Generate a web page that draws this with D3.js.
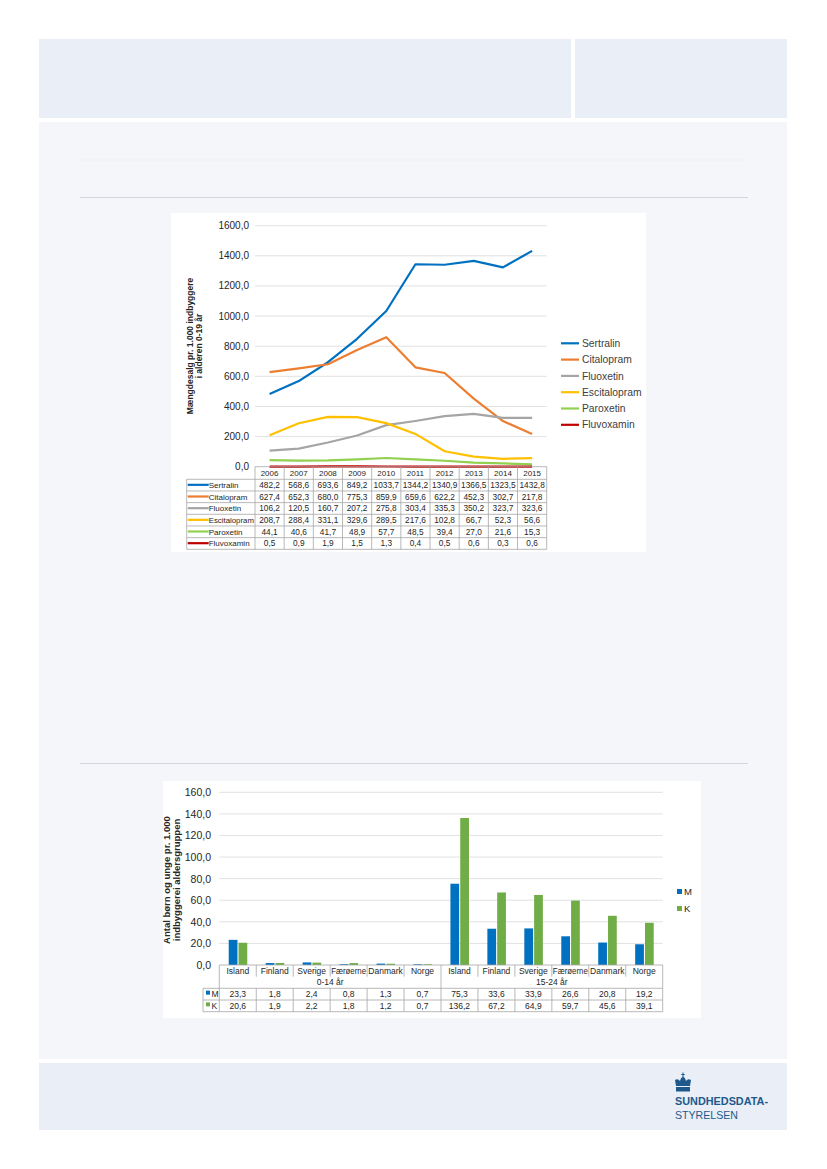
<!DOCTYPE html>
<html>
<head>
<meta charset="utf-8">
<script src="https://cdn.jsdelivr.net/npm/d3@7/dist/d3.min.js"></script>
<style>
  body { margin: 0; background: #fff; }
  svg text { font-family: "Liberation Sans", Arial, sans-serif; }
</style>
</head>
<body>
<div id="page"></div>
<script>
const width = 827;
const height = 1169;

// chart 1 data
const years = ['2006','2007','2008','2009','2010','2011','2012','2013','2014','2015'];
const drugs = ['Sertralin','Citalopram','Fluoxetin','Escitalopram','Paroxetin','Fluvoxamin'];
const sertralin = [482.2, 568.6, 693.6, 849.2, 1033.7, 1344.2, 1340.9, 1366.5, 1323.5, 1432.8];
const citalopram = [627.4, 652.3, 680.0, 775.3, 859.9, 659.6, 622.2, 452.3, 302.7, 217.8];
const fluoxetin = [106.2, 120.5, 160.7, 207.2, 275.8, 303.4, 335.3, 350.2, 323.7, 323.6];
const escitalopram = [208.7, 288.4, 331.1, 329.6, 289.5, 217.6, 102.8, 66.7, 52.3, 56.6];
const paroxetin = [44.1, 40.6, 41.7, 48.9, 57.7, 48.5, 39.4, 27.0, 21.6, 15.3];
const fluvoxamin = [0.5, 0.9, 1.9, 1.5, 1.3, 0.4, 0.5, 0.6, 0.3, 0.6];
const drugColors = ['#0070c0', '#ed7d31', '#a5a5a5', '#ffc000', '#92d050', '#c00000'];
const yTicks1 = [0, 200, 400, 600, 800, 1000, 1200, 1400, 1600];

// chart 2 data
const countries = ['Island','Finland','Sverige','Færøerne','Danmark','Norge'];
const ageGroups = ['0-14 år', '15-24 år'];
const sexes = ['M', 'K'];
const valuesM = [23.3, 1.8, 2.4, 0.8, 1.3, 0.7, 75.3, 33.6, 33.9, 26.6, 20.8, 19.2];
const valuesK = [20.6, 1.9, 2.2, 1.8, 1.2, 0.7, 136.2, 67.2, 64.9, 59.7, 45.6, 39.1];
const sexColors = ['#0070c0', '#70ad47'];
const yTicks2 = [0, 20, 40, 60, 80, 100, 120, 140, 160];

const fmt = v => d3.format('.1f')(v).replace('.', ',');
const gridColor = '#d9d9d9';
const tableColor = '#a6a6a6';
const textColor = '#404040';

// squeeze a label into its cell when it is too wide
function fitText(sel, maxW) {
  sel.each(function () {
    if (this.getComputedTextLength() > maxW) {
      d3.select(this).attr('textLength', maxW).attr('lengthAdjust', 'spacingAndGlyphs');
    }
  });
}

const svg = d3.select('#page').append('svg')
  .attr('width', width)
  .attr('height', height);

// page frame
svg.append('rect').attr('x', 39).attr('y', 39).attr('width', 532).attr('height', 79).attr('fill', '#e9eef7');
svg.append('rect').attr('x', 575).attr('y', 39).attr('width', 212).attr('height', 79).attr('fill', '#e9eef7');
svg.append('rect').attr('x', 39).attr('y', 122).attr('width', 748).attr('height', 937).attr('fill', '#f5f6fa');
svg.append('rect').attr('x', 39).attr('y', 1063).attr('width', 748).attr('height', 67).attr('fill', '#e9eef7');
svg.append('line').attr('x1', 80).attr('x2', 748).attr('y1', 160).attr('y2', 160).attr('stroke', '#eef0f5');
svg.append('line').attr('x1', 80).attr('x2', 748).attr('y1', 197.5).attr('y2', 197.5).attr('stroke', '#d3d6de');
svg.append('line').attr('x1', 80).attr('x2', 748).attr('y1', 763.5).attr('y2', 763.5).attr('stroke', '#d3d6de');

// ---------- chart 1: line chart with data table ----------
const g1 = svg.append('g');
g1.append('rect').attr('x', 171).attr('y', 213).attr('width', 475).attr('height', 339).attr('fill', '#fff');

const series1 = [sertralin, citalopram, fluoxetin, escitalopram, paroxetin, fluvoxamin];
const x1 = d3.scaleBand().domain(years).range([255, 546.7]);
const y1 = d3.scaleLinear().domain([0, 1600]).range([466.7, 225.7]);

// gridlines
g1.selectAll('.grid1').data(yTicks1.slice(1)).enter().append('line')
  .attr('x1', x1.range()[0]).attr('x2', x1.range()[1])
  .attr('y1', d => y1(d)).attr('y2', d => y1(d))
  .attr('stroke', gridColor).attr('stroke-width', 0.8);

// y axis labels
g1.selectAll('.ytick1').data(yTicks1).enter().append('text')
  .attr('x', 249).attr('y', d => y1(d) + 3.5)
  .attr('text-anchor', 'end').attr('font-size', 10).attr('fill', '#262626')
  .text(fmt);

// y axis title
const t1 = g1.append('text')
  .attr('transform', 'translate(193,346) rotate(-90)')
  .attr('text-anchor', 'middle').attr('font-size', 8.5).attr('font-weight', 'bold').attr('fill', '#262626');
t1.append('tspan').attr('x', 0).attr('dy', 0).text('Mængdesalg pr. 1.000 indbyggere');
t1.append('tspan').attr('x', 0).attr('dy', 8.5).text('i alderen 0-19 år');

// lines
const line1 = d3.line()
  .x((d, i) => x1(years[i]) + x1.bandwidth() / 2)
  .y(d => y1(d));
g1.selectAll('.series1').data(series1).enter().append('path')
  .attr('d', line1)
  .attr('fill', 'none')
  .attr('stroke', (d, i) => drugColors[i])
  .attr('stroke-width', 2.2)
  .attr('stroke-linejoin', 'round');

// legend
const leg1 = g1.selectAll('.leg1').data(drugs).enter().append('g')
  .attr('transform', (d, i) => `translate(561,${343.3 + i * 16.3})`);
leg1.append('line').attr('x1', 0).attr('x2', 18).attr('y1', 0).attr('y2', 0)
  .attr('stroke', (d, i) => drugColors[i]).attr('stroke-width', 2.2);
leg1.append('text').attr('x', 21).attr('y', 3.6).attr('font-size', 10.3).attr('fill', textColor).text(d => d);

// data table
const tTop = 466.7, headH = 12.6, rowH = 11.67, legLeft = 186.7;
const tBottom = tTop + headH + rowH * drugs.length;
const tab1 = g1.append('g').attr('stroke', tableColor).attr('stroke-width', 0.8);
tab1.append('line').attr('x1', x1.range()[0]).attr('x2', x1.range()[1]).attr('y1', tTop).attr('y2', tTop);
d3.range(drugs.length + 1).forEach(i => {
  const yy = tTop + headH + i * rowH;
  tab1.append('line').attr('x1', legLeft).attr('x2', x1.range()[1]).attr('y1', yy).attr('y2', yy);
});
years.concat(['end']).forEach((yr, i) => {
  const xx = x1.range()[0] + i * x1.bandwidth();
  tab1.append('line').attr('x1', xx).attr('x2', xx).attr('y1', tTop).attr('y2', tBottom);
});
tab1.append('line').attr('x1', legLeft).attr('x2', legLeft).attr('y1', tTop + headH).attr('y2', tBottom);

g1.selectAll('.yearLab').data(years).enter().append('text')
  .attr('x', d => x1(d) + x1.bandwidth() / 2).attr('y', tTop + headH - 3.3)
  .attr('text-anchor', 'middle').attr('font-size', 8).attr('fill', '#262626').text(d => d);

drugs.forEach((name, r) => {
  const yy = tTop + headH + r * rowH + rowH / 2 + 3;
  g1.append('line').attr('x1', legLeft + 1).attr('x2', legLeft + 22)
    .attr('y1', yy - 3.3).attr('y2', yy - 3.3)
    .attr('stroke', drugColors[r]).attr('stroke-width', 2.2);
  g1.append('text').attr('x', legLeft + 22).attr('y', yy)
    .attr('font-size', 8).attr('fill', '#262626').text(name)
    .call(fitText, x1.range()[0] - legLeft - 23);
  g1.selectAll(null).data(series1[r]).enter().append('text')
    .attr('x', (d, i) => x1(years[i]) + x1.bandwidth() / 2).attr('y', yy)
    .attr('text-anchor', 'middle').attr('font-size', 8.3).attr('fill', '#262626')
    .text(fmt);
});

// ---------- chart 2: grouped bars with data table ----------
const g2 = svg.append('g');
g2.append('rect').attr('x', 163).attr('y', 781).attr('width', 538).attr('height', 237).attr('fill', '#fff');

const cats = [];
ageGroups.forEach(a => countries.forEach(c => cats.push(a + '|' + c)));
const x2 = d3.scaleBand().domain(cats).range([219.3, 662.7]);
const bw = x2.bandwidth();
const xs = d3.scaleBand().domain(sexes).range([bw * 0.255, bw * 0.757]).paddingInner(0.11);
const y2 = d3.scaleLinear().domain([0, 160]).range([965, 792.3]);

g2.selectAll('.grid2').data(yTicks2.slice(1)).enter().append('line')
  .attr('x1', x2.range()[0]).attr('x2', x2.range()[1])
  .attr('y1', d => y2(d)).attr('y2', d => y2(d))
  .attr('stroke', gridColor).attr('stroke-width', 0.8);

g2.selectAll('.ytick2').data(yTicks2).enter().append('text')
  .attr('x', 211).attr('y', d => y2(d) + 4)
  .attr('text-anchor', 'end').attr('font-size', 10.5).attr('fill', '#262626')
  .text(fmt);

const t2 = g2.append('text')
  .attr('transform', 'translate(170,880) rotate(-90)')
  .attr('text-anchor', 'middle').attr('font-size', 9.5).attr('font-weight', 'bold').attr('fill', '#262626');
t2.append('tspan').attr('x', 0).attr('dy', 0).text('Antal børn og unge pr. 1.000');
t2.append('tspan').attr('x', 0).attr('dy', 10).text('indbyggerei aldersgruppen');

const series2 = [valuesM, valuesK];
series2.forEach((vals, s) => {
  g2.selectAll(null).data(vals).enter().append('rect')
    .attr('x', (d, i) => x2(cats[i]) + xs(sexes[s]))
    .attr('y', d => y2(d))
    .attr('width', xs.bandwidth())
    .attr('height', d => y2(0) - y2(d))
    .attr('fill', sexColors[s]);
});

// legend
const leg2 = g2.selectAll('.leg2').data(sexes).enter().append('g')
  .attr('transform', (d, i) => `translate(677,${889 + i * 17})`);
leg2.append('rect').attr('width', 5).attr('height', 5).attr('fill', (d, i) => sexColors[i]);
leg2.append('text').attr('x', 7).attr('y', 5.8).attr('font-size', 9.5).attr('fill', '#262626').text(d => d);

// table
const t2Top = 965, labH = 11.7, grpH = 11.6, row2H = 11.7, leg2Left = 203;
const rowsTop = t2Top + labH + grpH;
const t2Bottom = rowsTop + row2H * 2;
const tab2 = g2.append('g').attr('stroke', tableColor).attr('stroke-width', 0.8);
tab2.append('line').attr('x1', x2.range()[0]).attr('x2', x2.range()[1]).attr('y1', t2Top).attr('y2', t2Top);
[0, 1, 2].forEach(i => {
  const yy = rowsTop + i * row2H;
  tab2.append('line').attr('x1', leg2Left).attr('x2', x2.range()[1]).attr('y1', yy).attr('y2', yy);
});
cats.concat(['end']).forEach((c, i) => {
  const xx = x2.range()[0] + i * bw;
  const full = (i % countries.length === 0);
  tab2.append('line').attr('x1', xx).attr('x2', xx).attr('y1', t2Top).attr('y2', full ? t2Bottom : t2Top + labH);
  if (!full) tab2.append('line').attr('x1', xx).attr('x2', xx).attr('y1', rowsTop).attr('y2', t2Bottom);
});
tab2.append('line').attr('x1', leg2Left).attr('x2', leg2Left).attr('y1', rowsTop).attr('y2', t2Bottom);

g2.selectAll('.catLab').data(cats).enter().append('text')
  .attr('x', d => x2(d) + bw / 2).attr('y', t2Top + labH - 2.8)
  .attr('text-anchor', 'middle').attr('font-size', 8.5).attr('fill', '#262626')
  .text(d => d.split('|')[1])
  .call(fitText, bw - 2);
g2.selectAll('.grpLab').data(ageGroups).enter().append('text')
  .attr('x', (d, i) => x2.range()[0] + (i + 0.5) * countries.length * bw)
  .attr('y', t2Top + labH + grpH - 3)
  .attr('text-anchor', 'middle').attr('font-size', 8.5).attr('fill', '#262626')
  .text(d => d);

series2.forEach((vals, s) => {
  const yy = rowsTop + s * row2H + row2H / 2 + 3;
  g2.append('rect').attr('x', leg2Left + 3).attr('y', yy - 6.5).attr('width', 4).attr('height', 4).attr('fill', sexColors[s]);
  g2.append('text').attr('x', leg2Left + 8.5).attr('y', yy).attr('font-size', 8.5).attr('fill', '#262626').text(sexes[s]);
  g2.selectAll(null).data(vals).enter().append('text')
    .attr('x', (d, i) => x2(cats[i]) + bw / 2).attr('y', yy)
    .attr('text-anchor', 'middle').attr('font-size', 8.5).attr('fill', '#262626')
    .text(fmt);
});

// ---------- footer logo ----------
const logoColor = '#1d5a8b';
const logo = svg.append('g').attr('fill', logoColor);
// crown
logo.append('rect').attr('x', 676).attr('y', 1087).attr('width', 14).attr('height', 4.5);
logo.append('path').attr('d', 'M676,1086 L675,1080 Q678,1078 680,1081 Q681,1077 683,1077 Q685,1077 686,1081 Q688,1078 691,1080 L690,1086 Z');
logo.append('rect').attr('x', 682.5).attr('y', 1072.5).attr('width', 1).attr('height', 5);
logo.append('rect').attr('x', 681.3).attr('y', 1074).attr('width', 3.4).attr('height', 1);
logo.append('text').attr('x', 675).attr('y', 1104.5).attr('font-size', 10.5).attr('font-weight', 'bold')
  .attr('font-family', '"DejaVu Sans Condensed", sans-serif').attr('textLength', 93).attr('lengthAdjust', 'spacingAndGlyphs')
  .text('SUNDHEDSDATA-');
logo.append('text').attr('x', 675).attr('y', 1118.5).attr('font-size', 10.5)
  .attr('font-family', '"DejaVu Sans Condensed", sans-serif').attr('textLength', 63).attr('lengthAdjust', 'spacingAndGlyphs')
  .text('STYRELSEN');
</script>
</body>
</html>
